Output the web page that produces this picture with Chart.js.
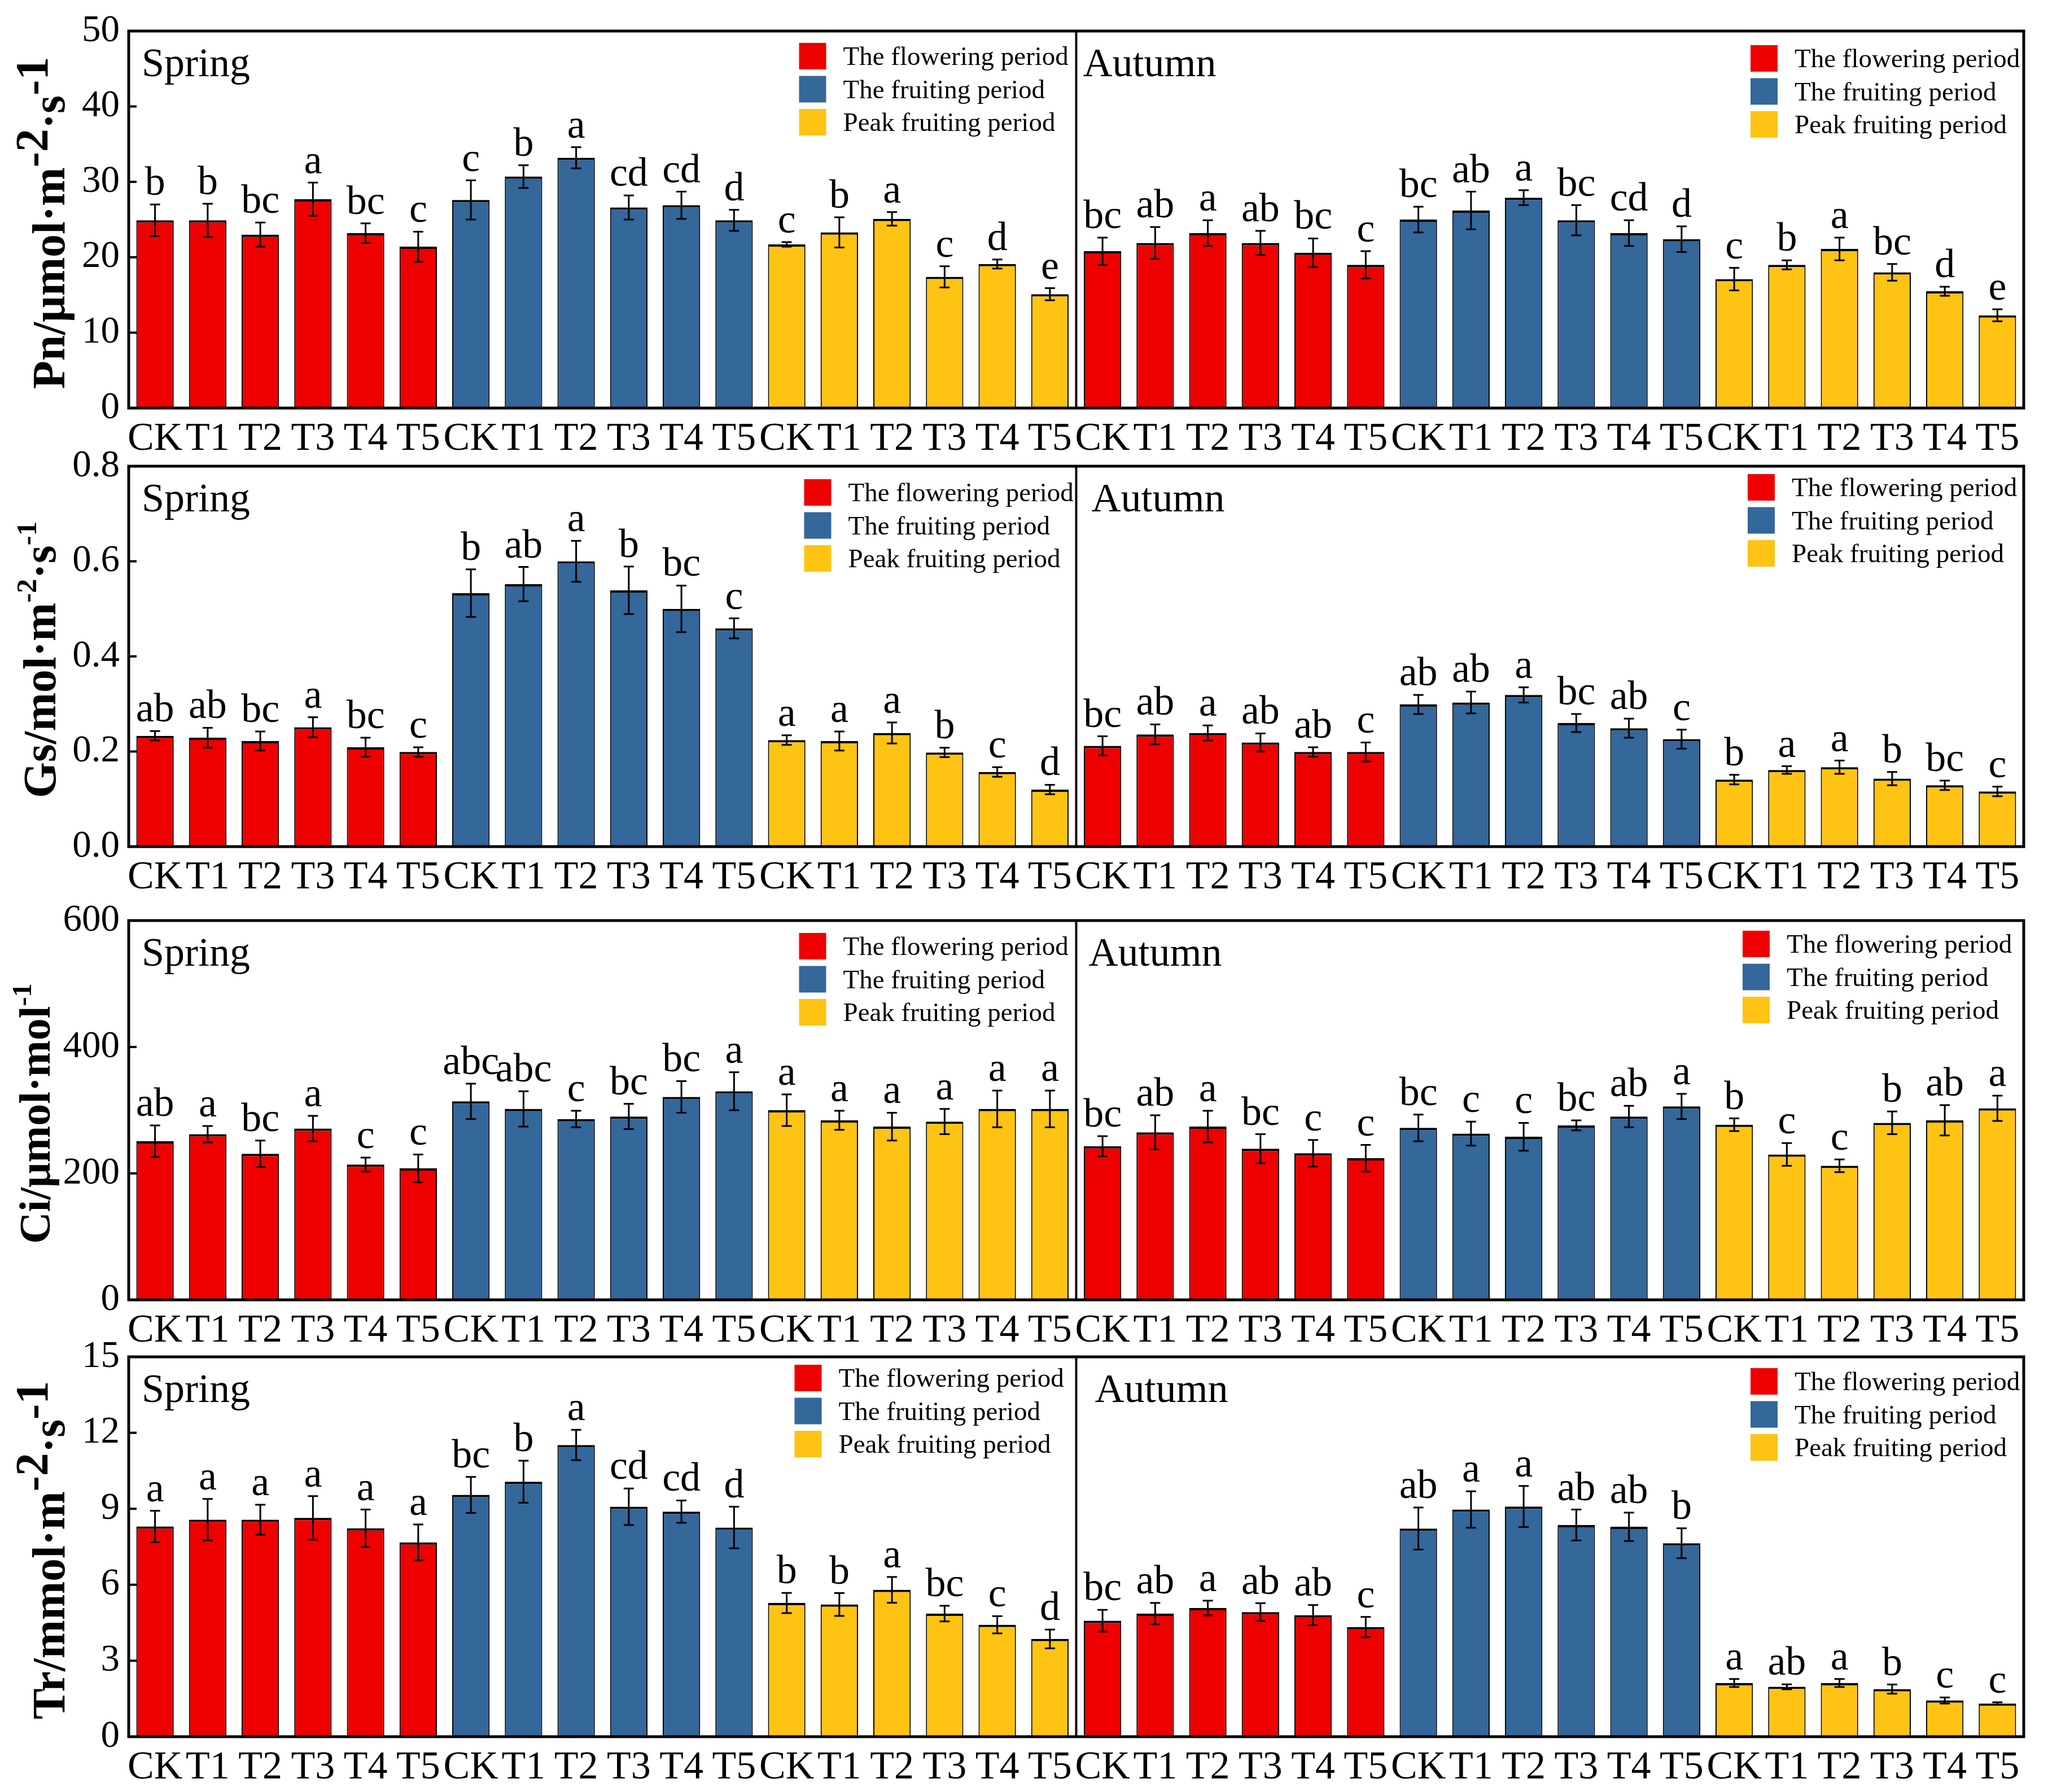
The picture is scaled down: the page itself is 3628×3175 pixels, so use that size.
<!DOCTYPE html>
<html>
<head>
<meta charset="utf-8">
<script src="https://cdn.jsdelivr.net/npm/chart.js@4.4.1/dist/chart.umd.min.js"></script>
<style>
  html, body { margin: 0; padding: 0; background: #ffffff; }
  body { width: 3628px; height: 3175px; position: relative; overflow: hidden; font-family: 'Liberation Serif', 'Times New Roman', serif; }
  .row { position: absolute; left: 0; width: 3628px; }
</style>
</head>
<body>
<div class="row" id="w0"><canvas id="c0"></canvas></div>
<div class="row" id="w1"><canvas id="c1"></canvas></div>
<div class="row" id="w2"><canvas id="c2"></canvas></div>
<div class="row" id="w3"><canvas id="c3"></canvas></div>
<script>
// ---------------- DATA ----------------
const categories = ['CK', 'T1', 'T2', 'T3', 'T4', 'T5'];
const seasons = ['Spring', 'Autumn'];
const periods = ['The flowering period', 'The fruiting period', 'Peak fruiting period'];

// Order in every array: flowering CK..T5, fruiting CK..T5, peak fruiting CK..T5
const pnSpring    = [24.9, 24.9, 23.0, 27.7, 23.2, 21.4, 27.6, 30.7, 33.2, 26.6, 26.9, 24.9, 21.7, 23.3, 25.1, 17.4, 19.1, 15.1];
const pnSpringErr = [2.1, 2.2, 1.6, 2.2, 1.3, 2.0, 2.6, 1.5, 1.4, 1.6, 1.8, 1.4, 0.3, 2.0, 0.9, 1.4, 0.6, 0.8];
const pnSpringSig = ['b', 'b', 'bc', 'a', 'bc', 'c', 'c', 'b', 'a', 'cd', 'cd', 'd', 'c', 'b', 'a', 'c', 'd', 'e'];
const pnAutumn    = [20.8, 21.9, 23.2, 21.9, 20.6, 19.0, 25.0, 26.2, 27.9, 24.9, 23.2, 22.4, 17.1, 19.0, 21.1, 18.0, 15.5, 12.3];
const pnAutumnErr = [1.8, 2.1, 1.7, 1.6, 1.9, 1.8, 1.7, 2.5, 1.0, 2.0, 1.7, 1.7, 1.5, 0.6, 1.5, 1.1, 0.6, 0.8];
const pnAutumnSig = ['bc', 'ab', 'a', 'ab', 'bc', 'c', 'bc', 'ab', 'a', 'bc', 'cd', 'd', 'c', 'b', 'a', 'bc', 'd', 'e'];

const gsSpring    = [0.233, 0.229, 0.222, 0.251, 0.209, 0.199, 0.533, 0.552, 0.600, 0.539, 0.500, 0.459, 0.224, 0.222, 0.239, 0.198, 0.157, 0.120];
const gsSpringErr = [0.010, 0.021, 0.020, 0.021, 0.020, 0.010, 0.050, 0.036, 0.043, 0.050, 0.049, 0.021, 0.010, 0.020, 0.022, 0.010, 0.010, 0.010];
const gsSpringSig = ['ab', 'ab', 'bc', 'a', 'bc', 'c', 'b', 'ab', 'a', 'b', 'bc', 'c', 'a', 'a', 'a', 'b', 'c', 'd'];
const gsAutumn    = [0.212, 0.236, 0.239, 0.219, 0.199, 0.199, 0.299, 0.303, 0.319, 0.260, 0.249, 0.226, 0.141, 0.161, 0.167, 0.143, 0.129, 0.116];
const gsAutumnErr = [0.020, 0.021, 0.016, 0.019, 0.010, 0.020, 0.020, 0.023, 0.016, 0.019, 0.020, 0.020, 0.010, 0.008, 0.014, 0.014, 0.010, 0.010];
const gsAutumnSig = ['bc', 'ab', 'a', 'ab', 'ab', 'c', 'ab', 'ab', 'a', 'bc', 'ab', 'c', 'b', 'a', 'a', 'b', 'bc', 'c'];

const ciSpring    = [251, 262, 231, 271, 214, 208, 314, 302, 286, 290, 321, 330, 300, 284, 274, 282, 302, 302];
const ciSpringErr = [25, 13, 21, 20, 11, 22, 28, 28, 13, 20, 25, 30, 25, 15, 22, 20, 29, 29];
const ciSpringSig = ['ab', 'a', 'bc', 'a', 'c', 'c', 'abc', 'abc', 'c', 'bc', 'bc', 'a', 'a', 'a', 'a', 'a', 'a', 'a'];
const ciAutumn    = [243, 265, 274, 239, 232, 224, 272, 263, 258, 276, 290, 306, 277, 230, 212, 280, 284, 303];
const ciAutumnErr = [16, 27, 25, 23, 21, 21, 21, 19, 22, 8, 17, 20, 10, 18, 10, 18, 24, 20];
const ciAutumnSig = ['bc', 'ab', 'a', 'bc', 'c', 'c', 'bc', 'c', 'c', 'bc', 'ab', 'a', 'b', 'c', 'c', 'b', 'ab', 'a'];

const trSpring    = [8.30, 8.57, 8.57, 8.64, 8.23, 7.67, 9.55, 10.07, 11.52, 9.08, 8.89, 8.26, 5.28, 5.22, 5.80, 4.86, 4.42, 3.86];
const trSpringErr = [0.62, 0.82, 0.59, 0.86, 0.74, 0.71, 0.71, 0.83, 0.60, 0.72, 0.44, 0.82, 0.40, 0.45, 0.51, 0.31, 0.34, 0.37];
const trSpringSig = ['a', 'a', 'a', 'a', 'a', 'a', 'bc', 'b', 'a', 'cd', 'cd', 'd', 'b', 'b', 'a', 'bc', 'c', 'd'];
const trAutumn    = [4.58, 4.86, 5.08, 4.92, 4.80, 4.33, 8.22, 8.97, 9.09, 8.36, 8.29, 7.64, 2.12, 1.97, 2.12, 1.88, 1.43, 1.31];
const trAutumnErr = [0.43, 0.42, 0.29, 0.35, 0.40, 0.40, 0.83, 0.72, 0.81, 0.61, 0.56, 0.59, 0.16, 0.10, 0.16, 0.18, 0.12, 0.05];
const trAutumnSig = ['bc', 'ab', 'a', 'ab', 'ab', 'c', 'ab', 'a', 'a', 'ab', 'ab', 'b', 'a', 'ab', 'a', 'b', 'c', 'c'];

const pnTicks = [0, 10, 20, 30, 40, 50];
const gsTicks = [0.0, 0.2, 0.4, 0.6, 0.8];
const ciTicks = [0, 200, 400, 600];
const trTicks = [0, 3, 6, 9, 12, 15];

// ---------------- STYLE / LAYOUT ----------------
const FONT = "'Liberation Serif', 'Times New Roman', Times, serif";
const periodColors = ['#EE0000', '#34679A', '#FFC313'];
const W = 3628, PLOT_LEFT = 228, PLOT_RIGHT = 3585;

Chart.defaults.font.family = FONT;
Chart.defaults.color = '#000';

const rows = [
  { values: [pnSpring, pnAutumn], errs: [pnSpringErr, pnAutumnErr], sigs: [pnSpringSig, pnAutumnSig],
    ticks: pnTicks, dec: 0, top: 55, bottom: 723, titleX: 114, supScale: 1.0, supRise: 0.36, titleSize: 82,
    title: [['Pn/\u03bcmol\u00b7m', 0], ['-2', 1], ['\u00b7s', 0], ['-1', 1]],
    legSpring: [-491, 21], legAutumn: [-484, 25], autDx: 12 },
  { values: [gsSpring, gsAutumn], errs: [gsSpringErr, gsAutumnErr], sigs: [gsSpringSig, gsAutumnSig],
    ticks: gsTicks, dec: 1, top: 826, bottom: 1500, titleX: 98, supScale: 0.62, supRise: 0.42, titleSize: 82,
    title: [['Gs/mol\u00b7m', 0], ['-2', 1], ['\u00b7s', 0], ['-1', 1]],
    legSpring: [-482, 23], legAutumn: [-489, 14], autDx: 27 },
  { values: [ciSpring, ciAutumn], errs: [ciSpringErr, ciAutumnErr], sigs: [ciSpringSig, ciAutumnSig],
    ticks: ciTicks, dec: 0, top: 1631, bottom: 2303, titleX: 88, supScale: 0.62, supRise: 0.42, titleSize: 78,
    title: [['Ci/\u03bcmol\u00b7mol', 0], ['-1', 1]],
    legSpring: [-491, 22], legAutumn: [-498, 18], autDx: 22 },
  { values: [trSpring, trAutumn], errs: [trSpringErr, trAutumnErr], sigs: [trSpringSig, trAutumnSig],
    ticks: trTicks, dec: 0, top: 2404, bottom: 3077, titleX: 114, supScale: 1.0, supRise: 0.36, titleSize: 82,
    title: [['Tr/mmol\u00b7m', 0], ['-2', 1], ['\u00b7s', 0], ['-1', 1]],
    legSpring: [-499, 14], legAutumn: [-484, 20], autDx: 33 }
];

const xLabels = [];
for (let s = 0; s < seasons.length; s++)
  for (let p = 0; p < periods.length; p++)
    categories.forEach(c => xLabels.push(c));

function makePlugin(r) {
  return {
    id: 'panelDecor',
    afterDatasetsDraw(chart) {
      const ctx = chart.ctx, ca = chart.chartArea;
      const xs = chart.scales.x, ys = chart.scales.y;
      const vals = r.values[0].concat(r.values[1]);
      const errs = r.errs[0].concat(r.errs[1]);
      const sigs = r.sigs[0].concat(r.sigs[1]);
      ctx.save();
      // error bars + significance letters
      ctx.strokeStyle = '#000';
      ctx.fillStyle = '#000';
      ctx.lineWidth = 3;
      ctx.font = '72px ' + FONT;
      ctx.textAlign = 'center';
      ctx.textBaseline = 'alphabetic';
      for (let i = 0; i < vals.length; i++) {
        const px = xs.getPixelForValue(i);
        const yt = ys.getPixelForValue(vals[i] + errs[i]);
        const yb = ys.getPixelForValue(vals[i] - errs[i]);
        ctx.beginPath();
        ctx.moveTo(px, yt); ctx.lineTo(px, yb);
        ctx.moveTo(px - 9, yt); ctx.lineTo(px + 9, yt);
        ctx.moveTo(px - 9, yb); ctx.lineTo(px + 9, yb);
        ctx.stroke();
        ctx.fillText(sigs[i], px, yt - 17);
      }
      // frame
      ctx.lineWidth = 5;
      ctx.strokeRect(ca.left, ca.top, ca.width, ca.height);
      // divider between seasons
      const divX = ca.left + ca.width / 2;
      ctx.lineWidth = 4;
      ctx.beginPath(); ctx.moveTo(divX, ca.top); ctx.lineTo(divX, ca.bottom); ctx.stroke();
      // inward y ticks
      r.ticks.forEach(t => {
        const py = ys.getPixelForValue(t);
        if (py > ca.top + 3 && py < ca.bottom - 3) {
          ctx.beginPath(); ctx.moveTo(ca.left, py); ctx.lineTo(ca.left + 14, py); ctx.stroke();
        }
      });
      // season labels
      ctx.textAlign = 'left';
      ctx.font = '72px ' + FONT;
      ctx.fillText(seasons[0], ca.left + 23, ca.top + 80);
      ctx.fillText(seasons[1], divX + r.autDx, ca.top + 80);
      // legends
      const legs = [[divX + r.legSpring[0], ca.top + r.legSpring[1]], [ca.right + r.legAutumn[0], ca.top + r.legAutumn[1]]];
      ctx.font = '47px ' + FONT;
      legs.forEach(([lx, ly]) => {
        periods.forEach((name, k) => {
          const sy = ly + k * 58.5;
          ctx.fillStyle = periodColors[k];
          ctx.fillRect(lx, sy, 48, 47);
          ctx.fillStyle = '#000';
          ctx.fillText(name, lx + 78, sy + 39);
        });
      });
      // rotated y-axis title with superscripts
      const fs = r.titleSize;
      const segs = r.title.map(([t, sup]) => {
        const size = sup ? fs * r.supScale : fs;
        ctx.font = 'bold ' + size + 'px ' + FONT;
        return { t, sup, size, w: ctx.measureText(t).width };
      });
      const total = segs.reduce((a, s) => a + s.w, 0);
      ctx.translate(r.titleX, (ca.top + ca.bottom) / 2 + 6);
      ctx.rotate(-Math.PI / 2);
      let cx = -total / 2;
      segs.forEach(s => {
        ctx.font = 'bold ' + s.size + 'px ' + FONT;
        ctx.fillText(s.t, cx, s.sup ? -fs * r.supRise : 0);
        cx += s.w;
      });
      ctx.restore();
    }
  };
}

function build() {
  rows.forEach((r, idx) => {
    const canvasTop = r.top - 60;
    const canvasH = (r.bottom + 110) - canvasTop;
    const wrap = document.getElementById('w' + idx);
    wrap.style.top = canvasTop + 'px';
    wrap.style.height = canvasH + 'px';
    const vals = r.values[0].concat(r.values[1]);
    const datasets = periods.map((name, k) => ({
      label: name,
      data: vals.map((v, i) => (Math.floor((i % 18) / 6) === k ? v : null)),
      backgroundColor: periodColors[k],
      borderColor: '#000',
      borderWidth: { top: 4, left: 2, right: 2, bottom: 0 },
      borderSkipped: 'start',
      grouped: false,
      categoryPercentage: 1.0,
      barPercentage: 0.71
    }));
    const xHeight = canvasTop + canvasH - r.bottom;
    new Chart(document.getElementById('c' + idx), {
      type: 'bar',
      data: { labels: xLabels, datasets },
      options: {
        responsive: true,
        maintainAspectRatio: false,
        animation: false,
        layout: { padding: { top: r.top - canvasTop, right: W - PLOT_RIGHT, left: 0, bottom: 0 } },
        plugins: { legend: { display: false }, tooltip: { enabled: false } },
        scales: {
          x: {
            type: 'category',
            offset: true,
            grid: { display: false, drawTicks: false },
            border: { display: false },
            ticks: { autoSkip: false, maxRotation: 0, minRotation: 0, color: '#000', padding: 14,
                     font: { family: FONT, size: 70 } },
            afterFit: s => { s.height = xHeight; }
          },
          y: {
            min: r.ticks[0],
            max: r.ticks[r.ticks.length - 1],
            grid: { display: false, drawTicks: false },
            border: { display: false },
            afterBuildTicks: s => { s.ticks = r.ticks.map(v => ({ value: v })); },
            ticks: { color: '#000', padding: 16, font: { family: FONT, size: 67 },
                     callback: v => Number(v).toFixed(r.dec) },
            afterFit: s => { s.width = PLOT_LEFT; }
          }
        }
      },
      plugins: [makePlugin(r)]
    });
  });
}

if (document.fonts && document.fonts.load) {
  Promise.all([
    document.fonts.load('70px "Liberation Serif"'),
    document.fonts.load('bold 82px "Liberation Serif"')
  ]).then(build, build);
} else {
  build();
}
</script>
</body>
</html>
